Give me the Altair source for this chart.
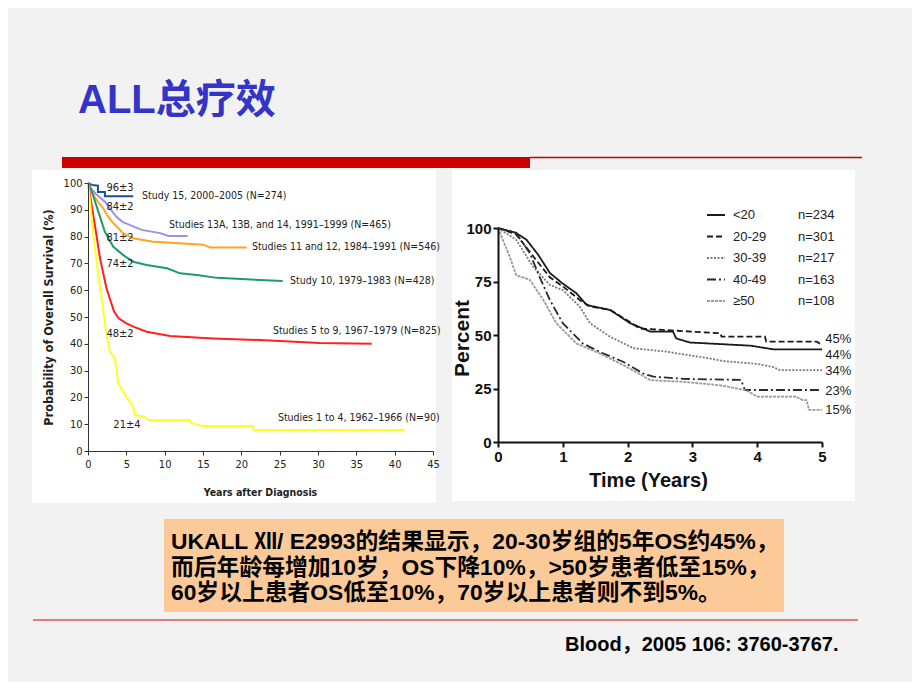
import altair as alt
import pandas as pd

# ---------------- slide texts ----------------
title_text = ["ALL总疗效"]
body_lines = [
    "UKALL Ⅻ/ E2993的结果显示，20-30岁组的5年OS约45%，",
    "而后年龄每增加10岁，OS下降10%，>50岁患者低至15%，",
    "60岁以上患者OS低至10%，70岁以上患者则不到5%。",
]
citation = ["Blood，2005 106: 3760-3767."]

# ---------------- left chart: overall survival by study era ----------------
left_studies = ["Study 15", "Studies 13-14", "Studies 11-12", "Study 10", "Studies 5-9", "Studies 1-4"]
left_colors = ["#1b4f8f", "#9e90e2", "#ffa41c", "#1f9b6e", "#ff2020", "#ffff22"]

s15_t = [0, 0.5, 1.3, 1.3, 2.2, 2.2, 5.9]
s15_v = [100, 99.3, 99, 96.6, 96.6, 95.1, 95.1]
s13_t = [0, 0.4, 1.0, 1.6, 2.2, 3.0, 3.7, 4.5, 5.5, 7.0, 9.4, 10.5, 13.0]
s13_v = [100, 98, 96, 94.5, 93, 90, 87.4, 85.5, 84.3, 82.5, 81.3, 80.2, 80.2]
s11_t = [0, 0.3, 0.7, 1.3, 2.0, 2.6, 3.3, 4.0, 4.6, 5.9, 8.5, 12.0, 15.0, 16.0, 20.7]
s11_v = [100, 98, 95.5, 93, 90.5, 87.5, 85, 83, 81.2, 79.4, 78.1, 77.5, 77, 75.9, 75.9]
s10_t = [0, 0.5, 1.35, 2.2, 3.3, 4.6, 5.9, 7.65, 10.3, 12.0, 14.2, 16.8, 22.4, 25.4]
s10_v = [100, 96.8, 89.3, 81.8, 76.2, 73.1, 70.6, 69.4, 68.2, 66.3, 65.7, 64.6, 63.8, 63.4]
s5_t = [0, 0.26, 0.9, 1.56, 2.4, 3.4, 4.0, 5.0, 6.0, 7.65, 10.7, 16.3, 22.4, 25.0, 30.2, 37.0]
s5_v = [100, 95.5, 84.3, 72, 60.8, 52, 49.5, 47.6, 46.3, 44.5, 42.9, 42, 41.4, 41, 40.3, 40]
s1_t = [0, 0.3, 0.7, 1.35, 1.8, 2.4, 2.87, 3.5, 3.95, 4.4, 5.0, 5.9, 6.1, 7.4, 7.85, 13.3, 13.5, 15.0, 21.5, 21.6, 41.3]
s1_v = [100, 92, 80.6, 65.7, 56, 44, 37, 34.6, 25.3, 23, 20.3, 16.5, 13.4, 12.8, 11.6, 11.6, 10.4, 9.3, 9.3, 7.8, 7.8]

left_curve_labels = [
    "Study 15, 2000–2005 (N=274)",
    "Studies 13A, 13B, and 14, 1991–1999 (N=465)",
    "Studies 11 and 12, 1984–1991 (N=546)",
    "Study 10, 1979–1983 (N=428)",
    "Studies 5 to 9, 1967–1979 (N=825)",
    "Studies 1 to 4, 1962–1966 (N=90)",
]
left_curve_label_t = [7.04, 10.56, 21.38, 26.34, 24.12, 24.77]
left_curve_label_v = [95.1, 84.3, 76.1, 63.4, 44.8, 12.3]
left_5yr_labels = ["96±3", "84±2", "81±2", "74±2", "48±2", "21±4"]
left_5yr_t = [4.17, 4.17, 4.17, 4.17, 4.17, 5.08]
left_5yr_v = [98.1, 91.0, 79.5, 69.8, 43.7, 9.7]
left_xticks = [0, 5, 10, 15, 20, 25, 30, 35, 40, 45]
left_yticks = [0, 10, 20, 30, 40, 50, 60, 70, 80, 90, 100]

# ---------------- right chart: survival by age group ----------------
age_groups = ["<20", "20-29", "30-39", "40-49", "≥50"]
age_n = ["n=234", "n=301", "n=217", "n=163", "n=108"]
age_colors = ["#1a1a1a", "#1a1a1a", "#7a7a7a", "#2a2a2a", "#9a9a9a"]
age_dashes = [[1, 0], [6, 3], [2, 1.5], [9, 3, 2, 3], [3, 1]]

a20_t = [0, 0.28, 0.44, 0.62, 0.8, 1.0, 1.21, 1.37, 1.73, 2.04, 2.35, 2.7, 2.75, 2.96, 3.9, 4.25, 5.0]
a20_v = [100, 97.7, 94.5, 87.5, 79, 74, 69.5, 64, 61.7, 55.5, 51.6, 51.6, 48.4, 46.5, 45, 43.3, 43.3]
a29_t = [0, 0.28, 0.59, 0.8, 1.0, 1.26, 1.42, 1.73, 2.04, 2.19, 3.43, 3.45, 4.12, 4.14, 4.92, 5.0]
a29_v = [100, 97, 85, 77, 72.7, 66.4, 63.3, 61.7, 56, 53, 50.8, 49.2, 49.2, 46.9, 46.9, 45.3]
a39_t = [0, 0.28, 0.54, 0.8, 1.0, 1.26, 1.42, 1.73, 2.09, 2.6, 2.96, 3.22, 3.48, 4.0, 4.25, 4.35, 5.0]
a39_v = [100, 94.5, 82, 73.4, 71, 63.3, 55.5, 49.2, 43.8, 42.2, 40.5, 39.3, 37.8, 36.5, 35, 33.6, 33.6]
a49_t = [0, 0.28, 0.49, 0.64, 0.8, 1.0, 1.31, 1.62, 1.93, 2.24, 2.4, 2.86, 3.75, 3.81, 5.0]
a49_v = [100, 97.7, 88.3, 77.3, 66.4, 55.5, 46, 41.4, 37.5, 32, 30.5, 29.5, 29, 24.3, 24.3]
a50_t = [0, 0.18, 0.28, 0.49, 0.7, 0.9, 1.21, 1.57, 1.98, 2.35, 2.86, 3.4, 3.82, 4.0, 4.6, 4.7, 4.76, 4.8, 5.0]
a50_v = [100, 86.7, 78, 75.8, 66.4, 55.5, 46, 41.4, 35.2, 28.9, 28.1, 26.6, 24.3, 21.2, 21.2, 19.6, 19.6, 15, 15]

end_labels = ["45%", "44%", "34%", "23%", "15%"]
end_label_t = [5.05, 5.05, 5.05, 5.05, 5.05]
end_label_v = [48.3, 40.6, 33.2, 23.8, 15.0]
right_xticks = [0, 1, 2, 3, 4, 5]
right_yticks = [0, 25, 50, 75, 100]

# ---------------- fonts ----------------
NARROW = "'Liberation Sans Narrow', 'Arial Narrow', 'DejaVu Sans Condensed', sans-serif"
SANS = "'Liberation Sans', Arial, 'Noto Sans CJK SC', sans-serif"


def long_df(names, ts_list, vs_list, key):
    rows = []
    for name, ts, vs in zip(names, ts_list, vs_list):
        for i, (t, v) in enumerate(zip(ts, vs)):
            rows.append({key: name, "t": t, "v": v, "order": i})
    return pd.DataFrame(rows)


one = pd.DataFrame({"k": [0]})

# ---------------- decorations ----------------
def rect(x, x2, y, y2, color):
    return alt.Chart(one).mark_rect(color=color).encode(
        x=alt.value(x), x2=alt.value(x2), y=alt.value(y), y2=alt.value(y2))

def hline(x, x2, y, color, w):
    return alt.Chart(one).mark_rule(color=color, strokeWidth=w).encode(
        x=alt.value(x), x2=alt.value(x2), y=alt.value(y))

panel_left = rect(24, 428, 162, 495, "white")
panel_right = rect(444, 847, 162, 493, "white")
red_bar = rect(54, 522, 149, 160, "#cc0000")
red_thin = hline(522, 854, 149.5, "#cc0000", 1.5)
red_bottom = hline(25, 850, 612, "#d85a5a", 1.5)
text_box = rect(156, 776, 511, 604, "#fcca98")

title = alt.Chart(pd.DataFrame({"txt": title_text})).mark_text(
    align="left", baseline="alphabetic", font=SANS, fontSize=40, fontWeight="bold",
    color="#3434c8").encode(x=alt.value(70), y=alt.value(105), text="txt:N")

body = alt.Chart(pd.DataFrame({"txt": body_lines, "i": list(range(len(body_lines)))})).mark_text(
    align="left", baseline="middle", font=SANS, fontSize=22.8, fontWeight="bold", color="black"
).encode(
    x=alt.value(163),
    y=alt.Y("i:O", scale=alt.Scale(type="point", domain=[0, 1, 2], range=[534, 585], padding=0), axis=None),
    text="txt:N")

cite = alt.Chart(pd.DataFrame({"txt": citation})).mark_text(
    align="left", baseline="middle", font=SANS, fontSize=20, fontWeight="bold", color="black"
).encode(x=alt.value(557), y=alt.value(637), text="txt:N")

# ---------------- left chart ----------------
left_df = long_df(left_studies, [s15_t, s13_t, s11_t, s10_t, s5_t, s1_t],
                  [s15_v, s13_v, s11_v, s10_v, s5_v, s1_v], "study")

lx = alt.X("t:Q", scale=alt.Scale(domain=[0, 45], range=[80, 425], nice=False, zero=False),
           axis=alt.Axis(orient="bottom", values=left_xticks, offset=-231, grid=False, zindex=2,
                         title="Years after Diagnosis", titleX=252, titleY=41,
                         titleBaseline="middle", titleAlign="center",
                         titleFont=NARROW, titleFontSize=10.5, titleFontWeight="bold", titleColor="#222",
                         labelFont=NARROW, labelFontSize=11, labelColor="#222", labelPadding=3,
                         labelFlush=False, labelOverlap=False,
                         tickSize=4, tickColor="#333", domainColor="#333"))
ly = alt.Y("v:Q", scale=alt.Scale(domain=[0, 100], range=[443, 175], nice=False, zero=False),
           axis=alt.Axis(orient="left", values=left_yticks, offset=-80, grid=False, zindex=2,
                         title="Probability of Overall Survival (%)", titleX=-40, titleY=309,
                         titleAngle=270, titleBaseline="middle", titleAlign="center",
                         titleFont=NARROW, titleFontSize=12.5, titleFontWeight="bold", titleColor="#222",
                         labelFont=NARROW, labelFontSize=11, labelColor="#222", labelPadding=2,
                         labelFlush=False, labelOverlap=False,
                         tickSize=4, tickColor="#333", domainColor="#333"))

left_lines = alt.Chart(left_df).mark_line(strokeWidth=2).encode(
    x=lx, y=ly,
    color=alt.Color("study:N", scale=alt.Scale(domain=left_studies, range=left_colors), legend=None),
    order="order:Q")

left_names = alt.Chart(pd.DataFrame({"txt": left_curve_labels, "t": left_curve_label_t,
                                     "v": left_curve_label_v})).mark_text(
    align="left", baseline="middle", font=NARROW, fontSize=10.5, color="#222").encode(
    x=lx, y=ly, text="txt:N")

left_5yr = alt.Chart(pd.DataFrame({"txt": left_5yr_labels, "t": left_5yr_t,
                                   "v": left_5yr_v})).mark_text(
    align="center", baseline="middle", font=NARROW, fontSize=11, color="#222").encode(
    x=lx, y=ly, text="txt:N")

left_chart = alt.layer(left_lines, left_names, left_5yr)

# ---------------- right chart ----------------
right_df = long_df(age_groups, [a20_t, a29_t, a39_t, a49_t, a50_t],
                   [a20_v, a29_v, a39_v, a49_v, a50_v], "age")

rx = alt.X("t:Q", scale=alt.Scale(domain=[0, 5], range=[490, 814], nice=False, zero=False),
           axis=alt.Axis(orient="bottom", values=right_xticks, offset=-240, grid=False, zindex=2,
                         title="Time (Years)", titleX=640, titleY=38,
                         titleBaseline="middle", titleAlign="center",
                         titleFont=SANS, titleFontSize=20, titleFontWeight="bold", titleColor="#111",
                         labelFont=SANS, labelFontSize=15, labelFontWeight="bold", labelColor="#111",
                         labelPadding=2, labelFlush=False, labelOverlap=False,
                         tickSize=5, tickWidth=2, tickColor="#111", domainColor="#111", domainWidth=2))
ry = alt.Y("v:Q", scale=alt.Scale(domain=[0, 100], range=[434, 220], nice=False, zero=False),
           axis=alt.Axis(orient="left", values=right_yticks, offset=-490, grid=False, zindex=2,
                         title="Percent", titleX=-36, titleY=330,
                         titleAngle=270, titleBaseline="middle", titleAlign="center",
                         titleFont=SANS, titleFontSize=21, titleFontWeight="bold", titleColor="#111",
                         labelFont=SANS, labelFontSize=15, labelFontWeight="bold", labelColor="#111",
                         labelPadding=2, labelFlush=False, labelOverlap=False,
                         tickSize=5, tickWidth=2, tickColor="#111", domainColor="#111", domainWidth=2))

right_lines = alt.Chart(right_df).mark_line(strokeWidth=1.8).encode(
    x=rx, y=ry,
    color=alt.Color("age:N", scale=alt.Scale(domain=age_groups, range=age_colors), legend=None),
    strokeDash=alt.StrokeDash("age:N", scale=alt.Scale(domain=age_groups, range=age_dashes), legend=None),
    order="order:Q")

right_end = alt.Chart(pd.DataFrame({"txt": end_labels, "t": end_label_t, "v": end_label_v})).mark_text(
    align="left", baseline="middle", font=SANS, fontSize=13, color="#222").encode(
    x=rx, y=ry, text="txt:N")

right_chart = alt.layer(right_lines, right_end)

# legend drawn from the group lists
leg_df = pd.DataFrame({"age": age_groups, "n": age_n})
leg_y = alt.Y("age:N", scale=alt.Scale(type="point", domain=age_groups, range=[207, 293], padding=0), axis=None)
leg_rule = alt.Chart(leg_df).mark_rule(strokeWidth=2).encode(
    x=alt.value(699), x2=alt.value(717), y=leg_y,
    color=alt.Color("age:N", scale=alt.Scale(domain=age_groups, range=age_colors), legend=None),
    strokeDash=alt.StrokeDash("age:N", scale=alt.Scale(domain=age_groups, range=age_dashes), legend=None))
leg_label = alt.Chart(leg_df).mark_text(align="left", baseline="middle", font=SANS, fontSize=13,
                                        color="#222").encode(x=alt.value(725), y=leg_y, text="age:N")
leg_n = alt.Chart(leg_df).mark_text(align="left", baseline="middle", font=SANS, fontSize=13,
                                    color="#222").encode(x=alt.value(790), y=leg_y, text="n:N")
legend_chart = alt.layer(leg_rule, leg_label, leg_n)

chart = alt.layer(
    panel_left, panel_right, red_bar, red_thin, red_bottom, text_box,
    title, body, cite, left_chart, right_chart, legend_chart
).resolve_scale(
    x="independent", y="independent", color="independent", strokeDash="independent"
).properties(
    width=904, height=674, autosize=alt.AutoSizeParams(type="none"), padding=0,
    background="#f2f2f2"
).configure_view(stroke=None)

chart.save("out.html", embed_options={"renderer": "svg", "actions": False})
